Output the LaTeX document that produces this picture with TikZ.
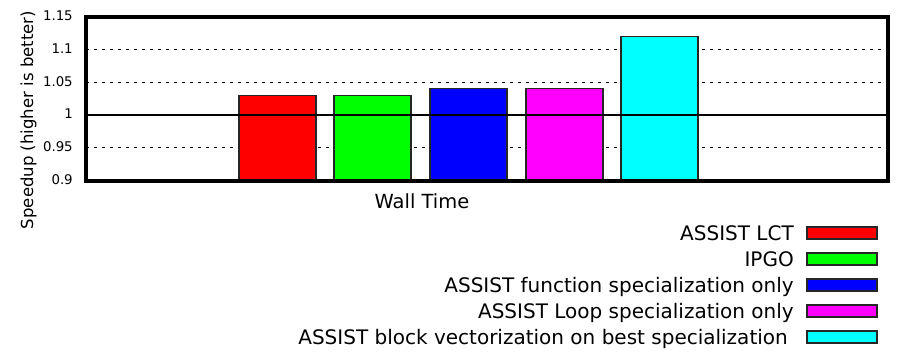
\documentclass[tikz,border=0pt]{standalone}
\usepackage{fontspec}
\setmainfont{DejaVu Sans}
\usetikzlibrary{positioning}

\definecolor{barred}{RGB}{255,0,0}
\definecolor{bargreen}{RGB}{0,255,0}
\definecolor{barblue}{RGB}{0,0,255}
\definecolor{barmagenta}{RGB}{255,0,255}
\definecolor{barcyan}{RGB}{0,255,255}

\tikzset{
  plotframe/.style={draw=black, line width=2.3pt},
  gridline/.style={draw=black, line width=0.75pt, dash pattern=on 2.4pt off 3.6pt},
  baseline1/.style={draw=black, line width=2.1pt},
  bar/.style={draw=black!85, line width=0.9pt},
  swatch/.style={draw=black!85, line width=0.9pt, minimum width=52.5pt, minimum height=9pt, inner sep=0pt},
  ticklabel/.style={anchor=base east, inner sep=0pt, font=\fontsize{10}{12}\selectfont},
  legendlabel/.style={anchor=base east, inner sep=0pt, font=\fontsize{15}{18}\selectfont}
}

\begin{document}
\begin{tikzpicture}[x=0.75pt, y=-0.75pt]
  \useasboundingbox (0,0) rectangle (897,360);

  \foreach \g in {1.1,1.05,0.95}
    \draw[gridline] (86,{115-(\g-1)*656}) -- (888,{115-(\g-1)*656});

  \foreach \x/\v/\c in {239/1.03/barred, 334/1.03/bargreen, 430/1.04/barblue, 526/1.04/barmagenta, 621/1.12/barcyan}
    \draw[bar, fill=\c] (\x,181) rectangle (\x+77,{115-(\v-1)*656});

  \draw[baseline1] (86,115) -- (888,115);
  \draw[plotframe] (86,17) rectangle (888,181);

  \foreach \t in {0.9,0.95,1,1.05,1.1,1.15}
    \node[ticklabel] (t\t) at (73,{119-(\t-1)*656}) {\t};

  \node[rotate=90, anchor=base, inner sep=0pt, font=\fontsize{12.4}{15}\selectfont] (ylab) at (33,120) {Speedup (higher is better)};
  \node[legendlabel, anchor=base, font=\fontsize{14.6}{17}\selectfont] (xlab) at (422,208) {Wall Time};

  \foreach \t/\c/\e [count=\i] in {ASSIST LCT/barred/794, IPGO/bargreen/794, ASSIST function specialization only/barblue/794, ASSIST Loop specialization only/barmagenta/794, ASSIST block vectorization on best specialization/barcyan/788} {
    \node[swatch, fill=\c] (sw\i) at (842,{233+(\i-1)*26}) {};
    \node[legendlabel] (leg\i) at (\e,{240+(\i-1)*26}) {\t};
  }
\end{tikzpicture}
\end{document}
